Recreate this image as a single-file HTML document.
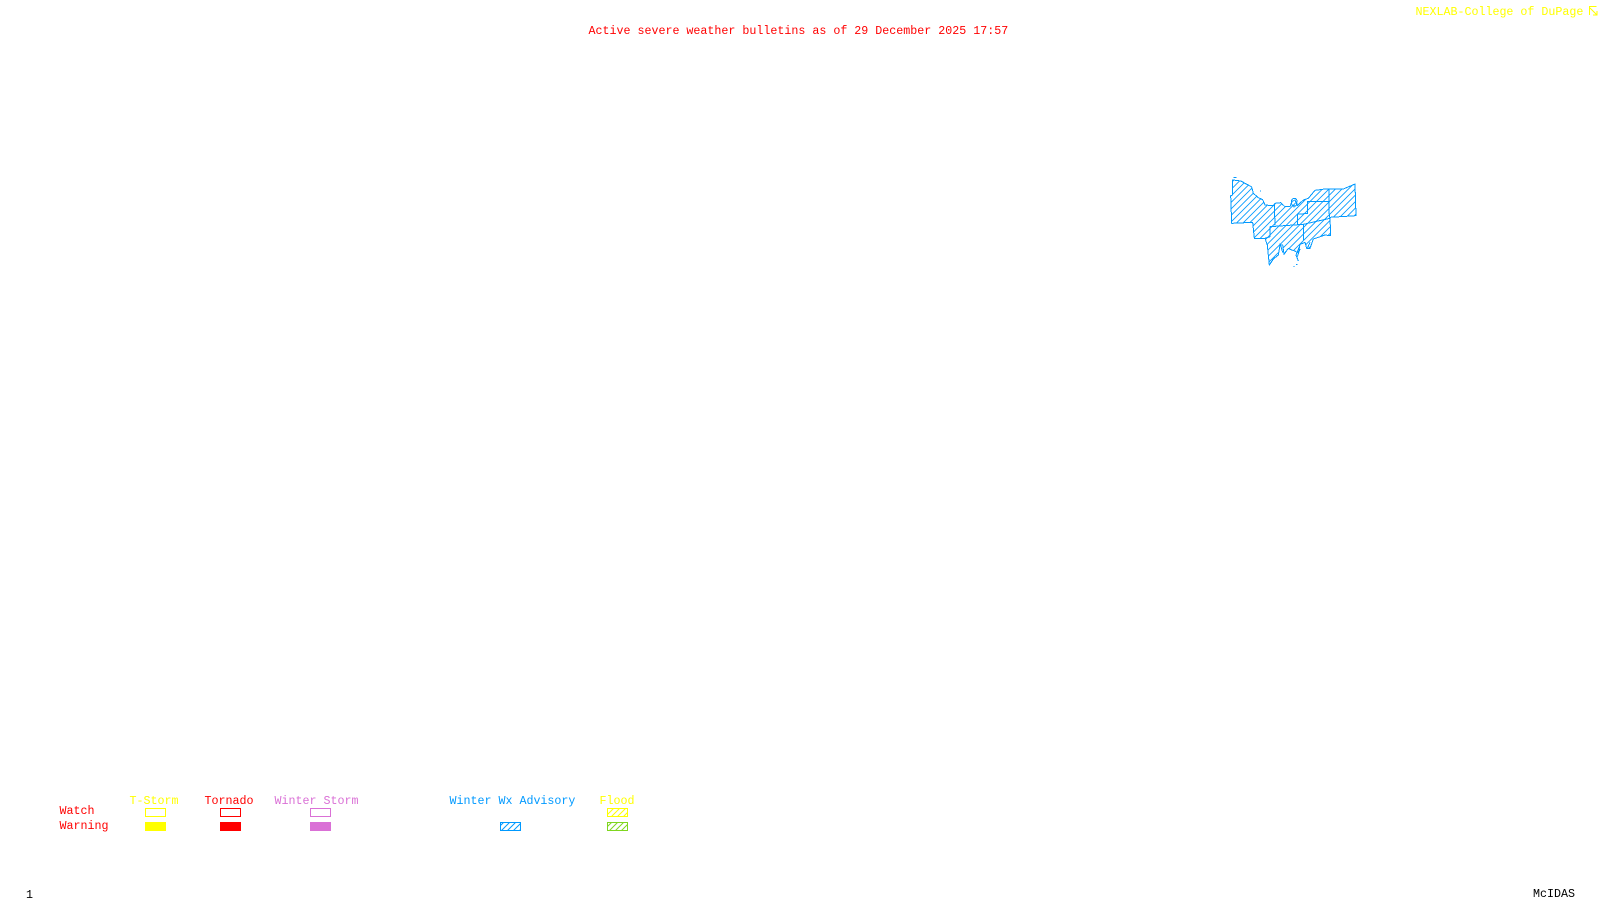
<!DOCTYPE html>
<html><head><meta charset="utf-8"><style>
html,body{margin:0;padding:0;background:#fff;width:1600px;height:900px;overflow:hidden}
svg{display:block}
text{font-family:"Liberation Mono",monospace;font-size:11.67px;white-space:pre}
</style></head><body>
<svg width="1600" height="900" viewBox="0 0 1600 900" xmlns="http://www.w3.org/2000/svg">
<defs>
<pattern id="hm" patternUnits="userSpaceOnUse" width="19.500" height="19.500"><path d="M-3 3L3 -3M0 19.500L19.500 0M16.500 22.500L22.500 16.500" stroke="#0099ff" stroke-width="2.500" fill="none"/></pattern>
<pattern id="hb" patternUnits="userSpaceOnUse" width="6" height="6"><path d="M-1 1L1 -1M0 6L6 0M5 7L7 5" stroke="#0099ff" stroke-width="1" fill="none"/></pattern>
<pattern id="hy" patternUnits="userSpaceOnUse" width="6" height="6"><path d="M-1 1L1 -1M0 6L6 0M5 7L7 5" stroke="#ffff00" stroke-width="1" fill="none"/></pattern>
<pattern id="hg" patternUnits="userSpaceOnUse" width="6" height="6"><path d="M-1 1L1 -1M0 6L6 0M5 7L7 5" stroke="#7fd61f" stroke-width="1" fill="none"/></pattern>
</defs>
<text x="588.500" y="34" fill="#ff0000">Active severe weather bulletins as of 29 December 2025 17:57</text>
<text x="1415.500" y="15" fill="#ffff00">NEXLAB-College of DuPage</text>
<path fill="none" stroke="#ffff00" stroke-width="1" d="M1589.500 15V6.500H1596.500M1590 8L1597 15M1593 15H1597V11"/>

<g transform="translate(1210 165) scale(.33333)" shape-rendering="crispEdges">
<path fill="url(#hm)" stroke="#0099ff" stroke-width="3" stroke-linejoin="round" d="M68 45L85 47L95 49L105 55L115 60L125 66L130 85L145 98L158 104L165 120L190 122L195 115L212 113L225 125L240 125L245 110L255 105L262 122L280 105L295 100L315 76L345 72L400 72L435 57L438 152L360 157L362 212L345 210L310 222L300 250L290 250L285 232L270 238L265 265L255 258L245 255L235 250L222 268L218 240L210 240L205 270L190 282L178 300L172 240L165 220L133 220L128 172L65 175L62 92L68 90Z"/>
<path fill="none" stroke="#0099ff" stroke-width="3" d="M193 118L195 182M180 185L280 178L280 225M180 185V215L165 220M262 178V148L293 145V110L357 110V72M357 110L358 157M280 178L360 160"/>
<path fill="none" stroke="#0099ff" stroke-width="3" d="M246 112a8 8 0 1 1 14 0a8 8 0 1 1 -14 0M252 118v10M270 240L258 270L265 288M270 252L262 275M70 37H79M250 305h4M258 298h4M150 78h3M210 235L218 262M300 232L292 250"/>
</g>

<g>
<text x="129.500" y="804" fill="#ffff00">T-Storm</text>
<text x="204.500" y="804" fill="#ff0000">Tornado</text>
<text x="274.500" y="804" fill="#da70d6">Winter Storm</text>
<text x="449.500" y="804" fill="#0099ff">Winter Wx Advisory</text>
<text x="599.500" y="804" fill="#ffff00">Flood</text>
<text x="59.500" y="814" fill="#ff0000">Watch</text>
<text x="59.500" y="829" fill="#ff0000">Warning</text>
</g>
<g fill="none" stroke-width="1">
<rect x="145.500" y="808.500" width="20" height="8" stroke="#ffff00"/>
<rect x="220.500" y="808.500" width="20" height="8" stroke="#ff0000"/>
<rect x="310.500" y="808.500" width="20" height="8" stroke="#da70d6"/>
<rect x="607.500" y="808.500" width="20" height="8" stroke="#ffff00" fill="url(#hy)"/>
<rect x="500.500" y="822.500" width="20" height="8" stroke="#0099ff" fill="url(#hb)"/>
<rect x="607.500" y="822.500" width="20" height="8" stroke="#7fd61f" fill="url(#hg)"/>
</g>
<rect x="145" y="822" width="21" height="9" fill="#ffff00"/>
<rect x="220" y="822" width="21" height="9" fill="#ff0000"/>
<rect x="310" y="822" width="21" height="9" fill="#da70d6"/>
<text x="26" y="898" fill="#000">1</text>
<text x="1533" y="897" fill="#000">McIDAS</text>
</svg>
</body></html>
